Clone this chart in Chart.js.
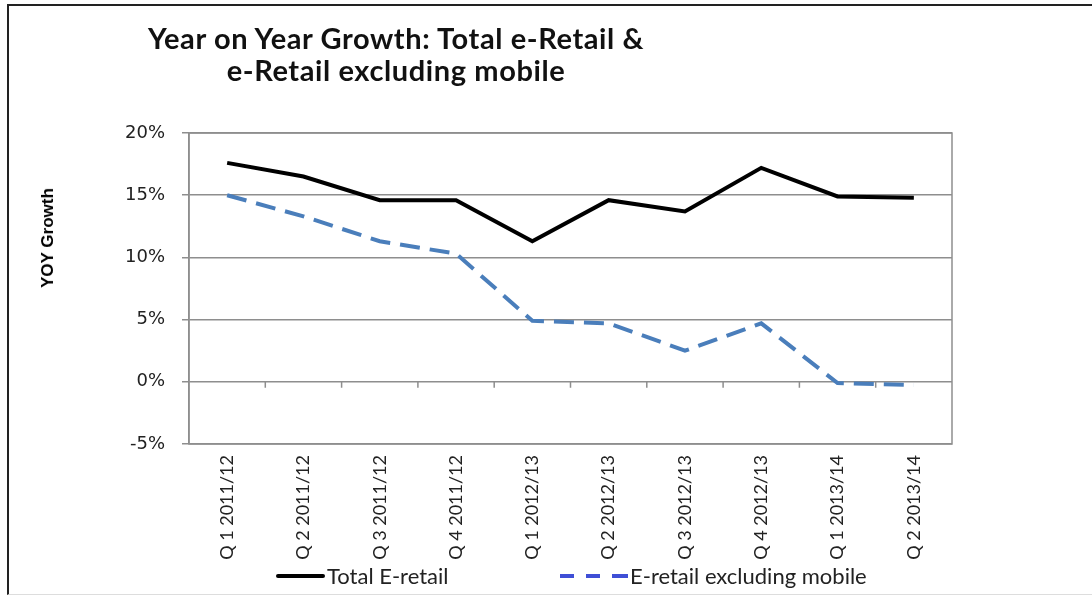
<!DOCTYPE html>
<html>
<head>
<meta charset="utf-8">
<script src="https://cdn.jsdelivr.net/npm/chart.js@4.4.1/dist/chart.umd.min.js"></script>
<style>
  html, body { margin: 0; padding: 0; background: #fff; }
  #wrap { position: relative; width: 1092px; height: 596px; overflow: hidden; }
  #frame { position: absolute; left: 7px; top: 4px; width: 1100px; height: 588px;
           border-left: 2px solid #222; border-top: 2px solid #222; border-bottom: 1px solid #ddd; }
  #title { position: absolute; left: 96px; width: 600px; top: 22px; text-align: center;
           font: bold 29px Lato, sans-serif; letter-spacing: 0.6px; line-height: 32px; color: #111; }
  #ytitle { position: absolute; left: 48px; top: 238px; transform: translate(-50%, -50%) rotate(-90deg);
            font: bold 17px "Liberation Sans", Arial, sans-serif; color: #000; white-space: nowrap; }
  .leg { position: absolute; top: 562px; font: 22px Lato, sans-serif; color: #222; white-space: nowrap; }
  .swatch { position: absolute; top: 574px; height: 4px; }
</style>
</head>
<body>
<div id="wrap">
  <div id="frame"></div>
  <canvas id="growth-chart" width="1092" height="596" style="position:absolute;left:0;top:0"></canvas>
  <div id="title">Year on Year Growth: Total e-Retail &amp;<br>e-Retail excluding mobile</div>
  <div id="ytitle">YOY Growth</div>
  <div class="swatch" style="left:276px;width:49px;background:#000;border-radius:2px"></div>
  <div class="leg" style="left:327px">Total E-retail</div>
  <div class="swatch" style="left:560px;width:14px;background:#3f4fd6"></div>
  <div class="swatch" style="left:586px;width:14px;background:#3f4fd6"></div>
  <div class="swatch" style="left:612px;width:16px;background:#3f4fd6"></div>
  <div class="leg" style="left:630px">E-retail excluding mobile</div>
</div>
<script>
const quarters = ['Q 1 2011/12', 'Q 2 2011/12', 'Q 3 2011/12', 'Q 4 2011/12', 'Q 1 2012/13',
                  'Q 2 2012/13', 'Q 3 2012/13', 'Q 4 2012/13', 'Q 1 2013/14', 'Q 2 2013/14'];
const totalRetail = [17.6, 16.5, 14.6, 14.6, 11.3, 14.6, 13.7, 17.2, 14.9, 14.8];
const retailExMobile = [15.0, 13.3, 11.3, 10.3, 4.9, 4.7, 2.5, 4.7, -0.1, -0.25];
const yTicks = [-5, 0, 5, 10, 15, 20];

const GRID = '#8e8e8e';

// box round the plot + little x ticks on the 0% line
const plotDecor = {
  id: 'plotDecor',
  beforeDatasetsDraw(chart) {
    const { ctx, chartArea: a, scales } = chart;
    ctx.save();
    ctx.strokeStyle = GRID;
    ctx.lineWidth = 1.5;
    ctx.strokeRect(a.left, a.top, a.right - a.left, a.bottom - a.top);
    const y0 = scales.y.getPixelForValue(0);
    ctx.beginPath();
    for (let i = 1; i < quarters.length; i++) {
      const x = (scales.x.getPixelForValue(i - 1) + scales.x.getPixelForValue(i)) / 2;
      ctx.moveTo(x, y0);
      ctx.lineTo(x, y0 + 6);
    }
    ctx.stroke();
    ctx.restore();
  }
};

const chart = new Chart(document.getElementById('growth-chart'), {
  type: 'line',
  data: {
    labels: quarters,
    datasets: [{
      label: 'Total E-retail',
      data: totalRetail,
      borderColor: '#000',
      borderWidth: 4,
      pointRadius: 0,
      tension: 0
    }, {
      label: 'E-retail excluding mobile',
      data: retailExMobile,
      borderColor: '#4a7ebb',
      borderWidth: 4,
      borderDash: [20, 10],
      pointRadius: 0,
      tension: 0
    }]
  },
  options: {
    responsive: false, animation: false,
    layout: { padding: { left: 40, top: 133, right: 140, bottom: 0 } },
    plugins: { legend: { display: false }, title: { display: false }, tooltip: { enabled: false } },
    scales: {
      x: {
        offset: true,
        grid: { display: false, drawTicks: false },
        border: { display: false },
        ticks: { autoSkip: false, minRotation: 90, maxRotation: 90, padding: 11,
                 color: '#222', font: { family: 'Lato', size: 18 } },
        afterFit(scale) { scale.height = 152; }
      },
      y: {
        min: -5, max: 20,
        afterBuildTicks(scale) { scale.ticks = yTicks.map(v => ({ value: v })); },
        grid: { color: GRID, lineWidth: 1.5, tickLength: 7 },
        border: { color: GRID, width: 1.5 },
        ticks: { padding: 17, color: '#222', font: { family: 'DejaVu Sans', size: 18 },
                 callback: v => v + '%' },
        afterFit(scale) { scale.width = 149; }
      }
    }
  },
  plugins: [plotDecor]
});
</script>
</body>
</html>
